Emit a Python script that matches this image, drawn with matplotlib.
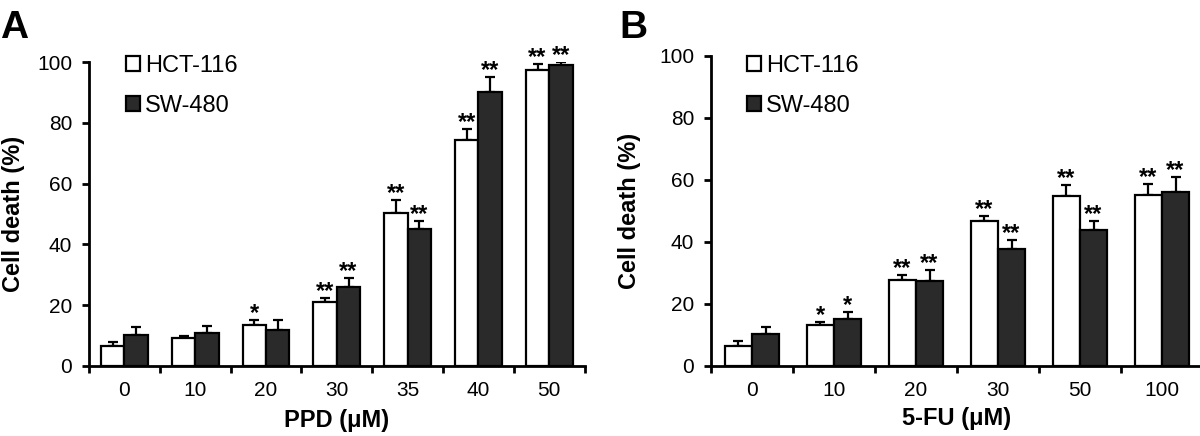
import numpy as np
import matplotlib.pyplot as plt

plt.rcParams['font.family'] = ['Liberation Sans', 'DejaVu Sans']

# panel A: PPD
ppd_doses = ['0', '10', '20', '30', '35', '40', '50']
ppd_hct = [6.5, 9.2, 13.5, 21.0, 50.5, 74.5, 97.5]
ppd_hct_err = [1.5, 0.8, 1.5, 1.5, 4.0, 3.5, 2.0]
ppd_sw = [10.2, 10.7, 11.7, 26.0, 45.0, 90.2, 99.0]
ppd_sw_err = [2.5, 2.3, 3.5, 3.0, 2.8, 5.0, 1.0]
ppd_hct_sig = ['', '', '*', '**', '**', '**', '**']
ppd_sw_sig = ['', '', '', '**', '**', '**', '**']

# panel B: 5-FU
fu_doses = ['0', '10', '20', '30', '50', '100']
fu_hct = [6.5, 13.2, 27.8, 46.7, 54.7, 55.2]
fu_hct_err = [1.5, 1.0, 1.5, 1.6, 3.8, 3.5]
fu_sw = [10.2, 15.1, 27.4, 37.8, 43.9, 56.1]
fu_sw_err = [2.5, 2.3, 3.5, 2.8, 2.8, 4.9]
fu_hct_sig = ['', '*', '**', '**', '**', '**']
fu_sw_sig = ['', '*', '**', '**', '**', '**']

fig = plt.figure(figsize=(12, 4.36), dpi=100)
axA = fig.add_axes([0.0742, 0.1606, 0.413, 0.697])
axB = fig.add_axes([0.5925, 0.1606, 0.41, 0.711])

w = 0.33
dark = '#2a2a2a'


def panel(ax, doses, hct, hct_err, sw, sw_err, hct_sig, sw_sig, xlabel, leg_xy, ylab_x, xlab_y):
    x = np.arange(len(doses))
    ax.bar(x - w/2, hct, w, color='white', edgecolor='black', linewidth=1.6, label='HCT-116', zorder=3)
    ax.bar(x + w/2, sw, w, color=dark, edgecolor='black', linewidth=1.6, label='SW-480', zorder=3)
    ax.errorbar(x - w/2, hct, yerr=[np.zeros(len(x)), hct_err], fmt='none', ecolor='black',
                elinewidth=1.6, capsize=3.5, capthick=1.6, zorder=2)
    ax.errorbar(x + w/2, sw, yerr=[np.zeros(len(x)), sw_err], fmt='none', ecolor='black',
                elinewidth=1.6, capsize=3.5, capthick=1.6, zorder=2)
    for i in range(len(x)):
        if hct_sig[i]:
            ax.text(x[i] - w/2, hct[i] + hct_err[i], hct_sig[i], ha='center', va='baseline',
                    fontsize=17, fontweight='bold')
        if sw_sig[i]:
            ax.text(x[i] + w/2, sw[i] + sw_err[i], sw_sig[i], ha='center', va='baseline',
                    fontsize=17, fontweight='bold')
    ax.set_xlim(-0.5, len(x) - 0.5)
    ax.set_ylim(0, 100)
    ax.set_yticks(range(0, 101, 20))
    ax.set_xticks(x)
    ax.set_xticklabels(doses, fontsize=15)
    ax.set_xticks(np.arange(len(x) + 1) - 0.5, minor=True)
    ax.tick_params(axis='x', which='major', length=0, pad=11)
    ax.tick_params(axis='x', which='minor', length=5, width=2, direction='out')
    ax.tick_params(axis='y', labelsize=15, length=5, width=2, direction='out', pad=7)
    for s in ['top', 'right']:
        ax.spines[s].set_visible(False)
    for s in ['left', 'bottom']:
        ax.spines[s].set_linewidth(2)
    ax.set_ylabel('Cell death (%)', fontsize=17, fontweight='bold', va='center')
    ax.yaxis.set_label_coords(ylab_x, 0.5)
    ax.set_xlabel(xlabel, fontsize=17, fontweight='bold', va='center')
    ax.xaxis.set_label_coords(0.5, xlab_y)
    ax.legend(loc='upper left', bbox_to_anchor=leg_xy, frameon=False, fontsize=17,
              borderpad=0, borderaxespad=0,
              handlelength=0.6, handleheight=0.6, handletextpad=0.2, labelspacing=0.75)


panel(axA, ppd_doses, ppd_hct, ppd_hct_err, ppd_sw, ppd_sw_err, ppd_hct_sig, ppd_sw_sig,
      'PPD (μM)', (0.0746, 1.023), -0.153, -0.178)
panel(axB, fu_doses, fu_hct, fu_hct_err, fu_sw, fu_sw_err, fu_hct_sig, fu_sw_sig,
      '5-FU (μM)', (0.073, 1.003), -0.165, -0.168)

fig.text(0.0, 0.977, 'A', fontsize=28, fontweight='bold', va='top')
fig.text(0.516, 0.977, 'B', fontsize=28, fontweight='bold', va='top')

fig.savefig('out.png', dpi=100)
